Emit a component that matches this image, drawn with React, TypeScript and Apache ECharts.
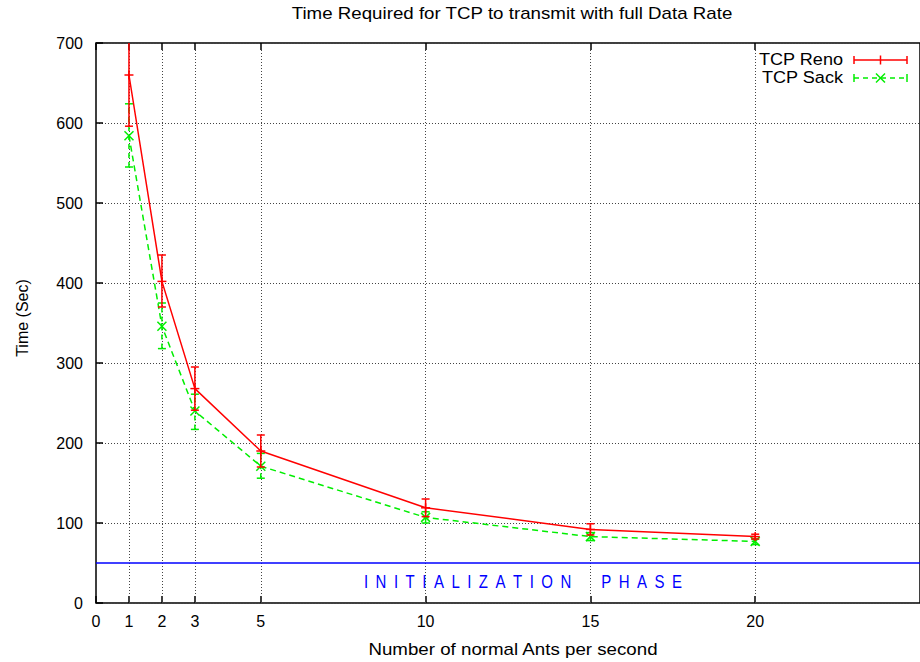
import React, { useEffect, useRef } from "react";
import * as echarts from "echarts";

const FONT = "'Liberation Sans', Arial, Helvetica, sans-serif";

const titleText = "Time Required for TCP to transmit with full Data Rate";
const xAxisName = "Number of normal Ants per second";
const yAxisName = "Time (Sec)";
const phaseText = "I\u2002N\u2002I\u2002T\u2002I\u2002A\u2002L\u2002I\u2002Z\u2002A\u2002T\u2002I\u2002O\u2002N\u2002\u2002\u2002\u2002P\u2002H\u2002A\u2002S\u2002E";

const xs = [1, 2, 3, 5, 10, 15, 20];
const renoMean = [660, 402, 268, 190, 119, 92, 83];
const renoLow = [596, 370, 241, 170, 108, 85, 80];
const renoHigh = [724, 435, 295, 210, 130, 99, 86];
const sackMean = [584, 346, 240, 171, 107, 83, 77];
const sackLow = [545, 318, 217, 156, 100, 78, 73];
const sackHigh = [624, 375, 261, 187, 114, 88, 80];

const xTickValues = [0, 1, 2, 3, 5, 10, 15, 20];
const xGridValues = [1, 2, 3, 5, 10, 15, 20];
const phaseLevel = 50;

const RED = "#ff0000";
const GREEN = "#00ee00";
const BLUE = "#0000ff";

function makeErrRender(color: string, dash: number[] | null, marker: "plus" | "cross") {
  return (params: any, api: any) => {
    const x = api.value(0);
    const m = api.value(1);
    const lo = api.value(2);
    const hi = api.value(3);
    const pm = api.coord([x, m]);
    const pl = api.coord([x, lo]);
    const ph = api.coord([x, hi]);
    const cap = 4;
    const ms = 4.5;
    const style: any = { stroke: color, lineWidth: 1.5, fill: "none" };
    if (dash) style.lineDash = dash;
    const solid: any = { stroke: color, lineWidth: 1.5, fill: "none" };
    const children: any[] = [
      { type: "line", shape: { x1: pl[0], y1: pl[1], x2: ph[0], y2: ph[1] }, style },
      { type: "line", shape: { x1: pl[0] - cap, y1: pl[1], x2: pl[0] + cap, y2: pl[1] }, style: solid },
      { type: "line", shape: { x1: ph[0] - cap, y1: ph[1], x2: ph[0] + cap, y2: ph[1] }, style: solid },
    ];
    if (marker === "plus") {
      children.push(
        { type: "line", shape: { x1: pm[0] - ms, y1: pm[1], x2: pm[0] + ms, y2: pm[1] }, style: solid },
        { type: "line", shape: { x1: pm[0], y1: pm[1] - ms, x2: pm[0], y2: pm[1] + ms }, style: solid }
      );
    } else {
      children.push(
        { type: "line", shape: { x1: pm[0] - ms, y1: pm[1] - ms, x2: pm[0] + ms, y2: pm[1] + ms }, style: solid },
        { type: "line", shape: { x1: pm[0] - ms, y1: pm[1] + ms, x2: pm[0] + ms, y2: pm[1] - ms }, style: solid }
      );
    }
    return { type: "group", children };
  };
}

export default function App() {
  const ref = useRef<HTMLDivElement>(null);

  useEffect(() => {
    if (!ref.current) return;
    const chart = echarts.init(ref.current, undefined, { renderer: "svg" });

    const renoLine = xs.map((x, i) => [x, renoMean[i]]);
    const sackLine = xs.map((x, i) => [x, sackMean[i]]);
    const renoErr = xs.map((x, i) => [x, renoMean[i], renoLow[i], renoHigh[i]]);
    const sackErr = xs.map((x, i) => [x, sackMean[i], sackLow[i], sackHigh[i]]);

    const gridLineStyle = { type: [1, 2], color: "#444", width: 1 };

    const tickCommon = {
      inside: true,
      length: 7,
      customValues: xTickValues,
      lineStyle: { color: "#000", width: 1.5 },
    };

    // legend sample geometry
    const lx1 = 854;
    const lx2 = 907;
    const lxm = (lx1 + lx2) / 2;
    const ly1 = 60;
    const ly2 = 78;

    const option: any = {
      animation: false,
      backgroundColor: "#fff",
      textStyle: { fontFamily: FONT },
      grid: {
        left: 96,
        top: 43,
        right: -11,
        bottom: 59,
        show: true,
        borderColor: "#000",
        borderWidth: 1.5,
        backgroundColor: "transparent",
      },
      xAxis: [
        {
          type: "value",
          min: 0,
          max: 25,
          position: "bottom",
          axisLine: { show: false },
          axisTick: tickCommon,
          axisLabel: {
            customValues: xTickValues,
            fontSize: 16,
            color: "#000",
            margin: 10,
            fontFamily: FONT,
          },
          splitLine: { show: false },
        },
        {
          type: "value",
          min: 0,
          max: 25,
          position: "top",
          axisLine: { show: false },
          axisTick: tickCommon,
          axisLabel: { show: false },
          splitLine: { show: false },
        },
      ],
      yAxis: {
        type: "value",
        min: 0,
        max: 700,
        interval: 100,
        axisLine: { show: false },
        axisTick: { inside: true, length: 7, lineStyle: { color: "#000", width: 1.5 } },
        axisLabel: { fontSize: 16, color: "#000", margin: 13, fontFamily: FONT },
        splitLine: { show: true, lineStyle: gridLineStyle },
      },
      graphic: [
        {
          type: "text",
          x: 512,
          y: 13,
          scaleX: 1.17,
          style: { text: titleText, font: `16px ${FONT}`, fill: "#000", align: "center", verticalAlign: "middle" },
        },
        {
          type: "text",
          x: 513,
          y: 649,
          scaleX: 1.17,
          style: { text: xAxisName, font: `16px ${FONT}`, fill: "#000", align: "center", verticalAlign: "middle" },
        },
        {
          type: "text",
          x: 22,
          y: 318,
          rotation: Math.PI / 2,
          style: { text: yAxisName, font: `16px ${FONT}`, fill: "#000", align: "center", verticalAlign: "middle" },
        },
        {
          type: "text",
          x: 523,
          y: 582,
          z: 10,
          scaleY: 1.18,
          style: { text: phaseText, font: `15px ${FONT}`, fill: BLUE, align: "center", verticalAlign: "middle" },
        },
        // legend
        {
          type: "text",
          x: 843,
          y: ly1,
          scaleX: 1.13,
          style: { text: "TCP Reno", font: `16px ${FONT}`, fill: "#000", align: "right", verticalAlign: "middle" },
        },
        {
          type: "text",
          x: 843,
          y: ly2,
          scaleX: 1.13,
          style: { text: "TCP Sack", font: `16px ${FONT}`, fill: "#000", align: "right", verticalAlign: "middle" },
        },
        { type: "line", shape: { x1: lx1, y1: ly1, x2: lx2, y2: ly1 }, style: { stroke: RED, lineWidth: 1.5 } },
        { type: "line", shape: { x1: lx1, y1: ly1 - 4, x2: lx1, y2: ly1 + 4 }, style: { stroke: RED, lineWidth: 1.5 } },
        { type: "line", shape: { x1: lx2, y1: ly1 - 4, x2: lx2, y2: ly1 + 4 }, style: { stroke: RED, lineWidth: 1.5 } },
        { type: "line", shape: { x1: lxm, y1: ly1 - 4.5, x2: lxm, y2: ly1 + 4.5 }, style: { stroke: RED, lineWidth: 1.5 } },
        { type: "line", shape: { x1: lx1, y1: ly2, x2: lx2, y2: ly2 }, style: { stroke: GREEN, lineWidth: 1.5, lineDash: [5, 4] } },
        { type: "line", shape: { x1: lx1, y1: ly2 - 4, x2: lx1, y2: ly2 + 4 }, style: { stroke: GREEN, lineWidth: 1.5 } },
        { type: "line", shape: { x1: lx2, y1: ly2 - 4, x2: lx2, y2: ly2 + 4 }, style: { stroke: GREEN, lineWidth: 1.5 } },
        { type: "line", shape: { x1: lxm - 4.5, y1: ly2 - 4.5, x2: lxm + 4.5, y2: ly2 + 4.5 }, style: { stroke: GREEN, lineWidth: 1.5 } },
        { type: "line", shape: { x1: lxm - 4.5, y1: ly2 + 4.5, x2: lxm + 4.5, y2: ly2 - 4.5 }, style: { stroke: GREEN, lineWidth: 1.5 } },
      ],
      series: [
        {
          name: "TCP Reno",
          type: "line",
          data: renoLine,
          symbol: "none",
          lineStyle: { color: RED, width: 1.5 },
          itemStyle: { color: RED },
          z: 4,
          silent: true,
          markLine: {
            silent: true,
            symbol: ["none", "none"],
            label: { show: false },
            z: 1,
            data: [
              ...xGridValues.map((x) => ({ xAxis: x, lineStyle: gridLineStyle })),
              { yAxis: phaseLevel, lineStyle: { color: BLUE, width: 1.5, type: "solid" } },
            ],
          },
        },
        {
          name: "TCP Sack",
          type: "line",
          data: sackLine,
          symbol: "none",
          lineStyle: { color: GREEN, width: 1.5, type: [6, 4] },
          itemStyle: { color: GREEN },
          z: 3,
          silent: true,
        },
        {
          type: "custom",
          data: renoErr,
          clip: true,
          z: 5,
          silent: true,
          renderItem: makeErrRender(RED, null, "plus"),
        },
        {
          type: "custom",
          data: sackErr,
          clip: true,
          z: 4,
          silent: true,
          renderItem: makeErrRender(GREEN, [5, 4], "cross"),
        },
      ],
    };

    chart.setOption(option);
    return () => chart.dispose();
  }, []);

  return (
    <div
      ref={ref}
      style={{ position: "fixed", left: 0, top: 0, width: 920, height: 662, background: "#fff" }}
    />
  );
}
